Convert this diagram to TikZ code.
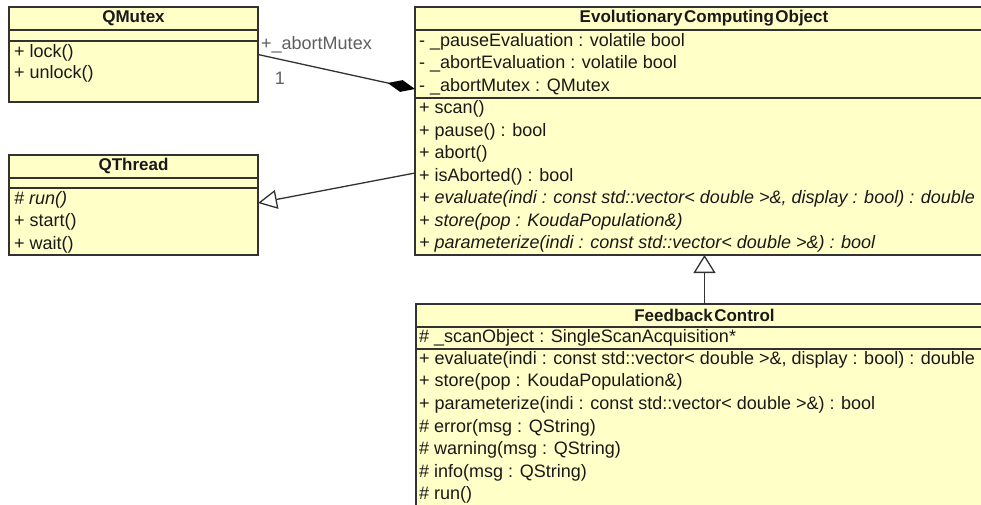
\documentclass[tikz,border=0pt]{standalone}
\usepackage{fontspec}
\setmainfont{Liberation Sans}
\usetikzlibrary{arrows.meta,calc}

\definecolor{classfill}{RGB}{255,255,200}
\definecolor{edgegray}{RGB}{50,50,50}
\definecolor{ink}{RGB}{25,25,25}
\definecolor{labelgray}{RGB}{95,95,95}

\begin{document}
\begin{tikzpicture}[x=1pt,y=-1pt,
  classbox/.style={draw=edgegray, fill=classfill, line width=1.3pt, rectangle,
                   inner sep=0pt, outer sep=0pt, anchor=north west},
  divider/.style={draw=edgegray, line width=1.3pt},
  classtitle/.style={font=\fontsize{17}{17}\selectfont\bfseries, text=ink, inner sep=0pt},
  member/.style={font=\fontsize{18}{18}\selectfont, text=ink, anchor=west,
                 inner sep=0pt, text height=13pt, text depth=4pt},
  abstractmember/.style={member, font=\fontsize{18}{18}\selectfont\itshape},
  rolelabel/.style={font=\fontsize{18}{18}\selectfont, text=labelgray, inner sep=0pt},
  conn/.style={draw=edgegray, line width=1.3pt}
]
\clip (0,0) rectangle (981,505);
\fill[white] (0,0) rectangle (981,505);

% ---------- QMutex ----------
\node[classbox, minimum width=249pt, minimum height=95pt] (qmutex) at (9,7) {};
\draw[divider] (9,30) -- (258,30);
\draw[divider] (9,41) -- (258,41);
\node[classtitle] (qmutexT) at (133.5,18.5) {QMutex};
\node[member] (qm1) at (14,53) {+ lock()};
\node[member] (qm2) at (14,74) {+ unlock()};

% ---------- QThread ----------
\node[classbox, minimum width=249pt, minimum height=100pt] (qthread) at (9,155) {};
\draw[divider] (9,178) -- (258,178);
\draw[divider] (9,188) -- (258,188);
\node[classtitle] (qthreadT) at (133.5,166.5) {QThread};
\node[abstractmember] (qt1) at (14,200) {\# run()};
\node[member] (qt2) at (14,222) {+ start()};
\node[member] (qt3) at (14,245) {+ wait()};

% ---------- EvolutionaryComputingObject ----------
\node[classbox, minimum width=578pt, minimum height=248pt] (eco) at (415,7) {};
\draw[divider] (415,30) -- (993,30);
\draw[divider] (415,98) -- (993,98);
\node[classtitle] (ecoT) at (704,18.5) {{\spaceskip=1.5pt Evolutionary Computing Object}};
\node[member] (ea1) at (419,42) {- \_pauseEvaluation : volatile bool};
\node[member] (ea2) at (419,64) {- \_abortEvaluation : volatile bool};
\node[member] (ea3) at (419,87) {- \_abortMutex : QMutex};
\node[member] (em1) at (419,109) {+ scan()};
\node[member] (em2) at (419,132) {+ pause() : bool};
\node[member] (em3) at (419,154) {+ abort()};
\node[member] (em4) at (419,177) {+ isAborted() : bool};
\node[abstractmember] (em5) at (419,199) {+ evaluate(indi : const std::vector< double >\&, display : bool) : double};
\node[abstractmember] (em6) at (419,222) {+ store(pop : KoudaPopulation\&)};
\node[abstractmember] (em7) at (419,244) {+ parameterize(indi : const std::vector< double >\&) : bool};

% ---------- FeedbackControl ----------
\node[classbox, minimum width=577pt, minimum height=220pt] (fc) at (416,304) {};
\draw[divider] (416,327) -- (993,327);
\draw[divider] (416,349) -- (993,349);
\node[classtitle] (fcT) at (704.5,315.5) {{\spaceskip=1.5pt Feedback Control}};
\node[member] (fa1) at (419,338) {\# \_scanObject : SingleScanAcquisition*};
\node[member] (fm1) at (419,360) {+ evaluate(indi : const std::vector< double >\&, display : bool) : double};
\node[member] (fm2) at (419,382) {+ store(pop : KoudaPopulation\&)};
\node[member] (fm3) at (419,405) {+ parameterize(indi : const std::vector< double >\&) : bool};
\node[member] (fm4) at (419,428) {\# error(msg : QString)};
\node[member] (fm5) at (419,450) {\# warning(msg : QString)};
\node[member] (fm6) at (419,473) {\# info(msg : QString)};
\node[member] (fm7) at (419,495) {\# run()};

% ---------- relations ----------
% composition: EvolutionaryComputingObject owns an abort mutex
\draw[conn, -{Diamond[length=28pt,width=12pt,fill=black,color=black]}]
  (qmutex.east) -- ($(eco.north west)+(0,82)$);
\node[rolelabel, anchor=west] (role) at (261,45) {+\_abortMutex};
\node[rolelabel] (mult) at (280,78) {1};

% generalization: EvolutionaryComputingObject derives from QThread
\draw[conn, -{Triangle[open,length=19pt,width=19pt]}]
  ($(eco.north west)+(0,166)$) -- ($(qthread.east)+(0,-2)$);

% generalization: FeedbackControl derives from EvolutionaryComputingObject
\draw[conn, -{Triangle[open,length=18pt,width=22pt]}]
  (fc.north) -- (fc.north |- eco.south);
\end{tikzpicture}
\end{document}
